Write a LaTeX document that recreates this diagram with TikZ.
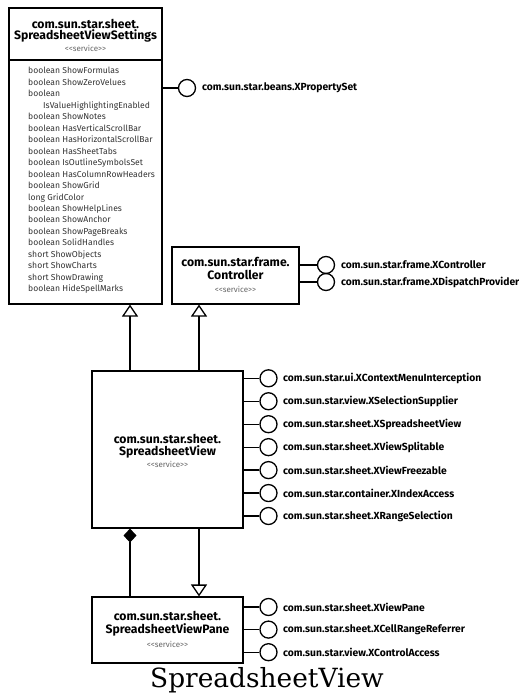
\documentclass[tikz,border=0pt]{standalone}
\usepackage{fontspec}
\setmainfont{Fira Sans}
\newfontfamily\capfont{DejaVu Serif}
\usetikzlibrary{arrows.meta}
\newcommand{\svcname}{{<}{<}service{>}{>}}
\begin{document}
\begin{tikzpicture}[x=1pt,y=-1pt,
  box/.style={draw,line width=1.1pt,inner sep=0pt,fill=white},
  conn/.style={line width=1.3pt},
  lolli/.style={circle,draw,line width=1.3pt,minimum size=17pt,inner sep=0pt},
  lab/.style={anchor=west,font=\bfseries\fontsize{10.3}{12}\selectfont,inner sep=0pt},
  ttl/.style={anchor=base,font=\bfseries\fontsize{12.2}{13}\selectfont,inner sep=0pt},
  svc/.style={anchor=base,font=\fontsize{8}{9}\selectfont,text=black!60,inner sep=0pt},
  attr/.style={anchor=base west,font=\fontsize{8.6}{9}\selectfont,text=black!80,inner sep=0pt},
  gen/.style={conn,-{Triangle[open,length=12pt,width=16pt,line width=1.3pt]}},
  comp/.style={conn,{Diamond[length=14pt,width=13pt]}-}
]
\useasboundingbox (0,0) rectangle (519,693);
\fill[white] (0,0) rectangle (519,693);

% SpreadsheetViewSettings
\node[box,minimum width=153pt,minimum height=296pt] (set) at (85.5,156) {};
\draw[line width=1.1pt] (set.west |- 0,60) -- (set.east |- 0,60);
\node[ttl] (sett1) at (85.5,28.5) {com.sun.star.sheet.};
\node[ttl] (sett2) at (85.5,40) {SpreadsheetViewSettings};
\node[svc] (setsvc) at (85.5,51.5) {\svcname};
\foreach \t [count=\i] in {boolean ShowFormulas,boolean ShowZeroVelues,boolean,
  {\hspace*{15pt}IsValueHighlightingEnabled},boolean ShowNotes,boolean HasVerticalScrollBar,
  boolean HasHorizontalScrollBar,boolean HasSheetTabs,boolean IsOutlineSymbolsSet,
  boolean HasColumnRowHeaders,boolean ShowGrid,long GridColor,boolean ShowHelpLines,
  boolean ShowAnchor,boolean ShowPageBreaks,boolean SolidHandles,short ShowObjects,
  short ShowCharts,short ShowDrawing,boolean HideSpellMarks}
  \node[attr] (attr\i) at (28,{74+(\i-1)*11.46}) {\t};

\node[lolli] (pset) at (187,88) {};
\draw[conn] (set.east |- pset) -- (pset.west);
\node[lab] (psetl) at (202,88) {com.sun.star.beans.XPropertySet};

% Controller
\node[box,minimum width=127pt,minimum height=57pt] (ctl) at (235.5,275.5) {};
\node[ttl] (ctlt1) at (235.5,266.5) {com.sun.star.frame.};
\node[ttl] (ctlt2) at (235.5,279) {Controller};
\node[svc] (ctlsvc) at (235.5,292.5) {\svcname};
\node[lolli] (pc1) at (326,265) {};
\node[lolli] (pc2) at (326,282) {};
\draw[conn] (ctl.east |- pc1) -- (pc1.west);
\draw[conn] (ctl.east |- pc2) -- (pc2.west);
\node[lab] (pc1l) at (341,265) {com.sun.star.frame.XController};
\node[lab] (pc2l) at (341,282) {com.sun.star.frame.XDispatchProvider};

% SpreadsheetView
\node[box,minimum width=151pt,minimum height=157pt] (sv) at (167.5,449.5) {};
\node[ttl] (svt1) at (167.5,443.5) {com.sun.star.sheet.};
\node[ttl] (svt2) at (167.5,455.5) {SpreadsheetView};
\node[svc] (svsvc) at (167.5,467.5) {\svcname};
\foreach \t [count=\i] in {com.sun.star.ui.XContextMenuInterception,
  com.sun.star.view.XSelectionSupplier,com.sun.star.sheet.XSpreadsheetView,
  com.sun.star.sheet.XViewSplitable,com.sun.star.sheet.XViewFreezable,
  com.sun.star.container.XIndexAccess,com.sun.star.sheet.XRangeSelection}{
  \node[lolli] (ps\i) at (268.5,{378.3+(\i-1)*22.95}) {};
  \draw[conn] (sv.east |- ps\i) -- (ps\i.west);
  \node[lab] (ps\i l) at (283,{378.3+(\i-1)*22.95}) {\t};
}

% SpreadsheetViewPane
\node[box,minimum width=151pt,minimum height=66pt] (pane) at (167.5,630) {};
\node[ttl] (pt1) at (167.5,620.5) {com.sun.star.sheet.};
\node[ttl] (pt2) at (167.5,633) {SpreadsheetViewPane};
\node[svc] (psvc) at (167.5,647) {\svcname};
\foreach \t [count=\i] in {com.sun.star.sheet.XViewPane,
  com.sun.star.sheet.XCellRangeReferrer,com.sun.star.view.XControlAccess}{
  \node[lolli] (pp\i) at (268.5,{607+(\i-1)*22.6}) {};
  \draw[conn] (pane.east |- pp\i) -- (pp\i.west);
  \node[lab] (pp\i l) at (283,{607+(\i-1)*22.6}) {\t};
}

% connectors
\draw[gen] (sv.north -| 130,0) -- (set.south -| 130,0);
\draw[gen] (sv.north -| 199,0) -- (ctl.south -| 199,0);
\draw[gen] (sv.south -| 199,0) -- (pane.north -| 199,0);
\draw[comp] (sv.south -| 130,0) -- (pane.north -| 130,0);

\node[anchor=base,font=\capfont\fontsize{26.4}{28}\selectfont,inner sep=0pt] (cap) at (267,687) {SpreadsheetView};
\end{tikzpicture}
\end{document}
